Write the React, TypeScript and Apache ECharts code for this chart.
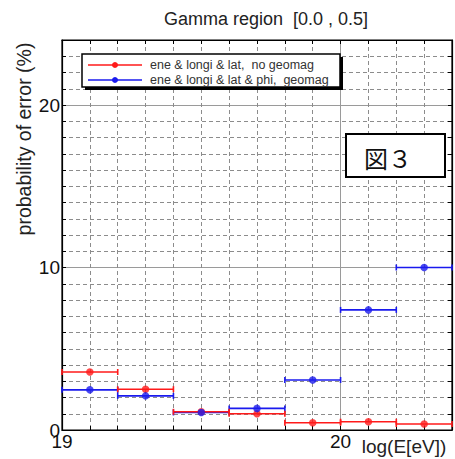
import React, { useEffect, useRef } from 'react';
import * as echarts from 'echarts';

// Energy bins (log10 E[eV])
const binLow = [19.0, 19.2, 19.4, 19.6, 19.8, 20.0, 20.2];
const binHigh = [19.2, 19.4, 19.6, 19.8, 20.0, 20.2, 20.4];
// probability of error (%)
const noGeomag = [3.57, 2.51, 1.12, 1.0, 0.45, 0.51, 0.37];
const withGeomag = [2.47, 2.1, 1.08, 1.33, 3.08, 7.39, 10.0];
const seriesNames = ['ene & longi & lat,  no geomag', 'ene & longi & lat & phi,  geomag'];
const seriesColors = ['#ff1a1a', '#1a1aee'];
const xTickLabels = ['19', '20'];
const yTickLabels = ['0', '10', '20'];
const titleText = 'Gamma region  [0.0 , 0.5]';
const yName = 'probability of error (%)';
const xName = 'log(E[eV])';
const figLabel = '図３';

const FONT = '"Liberation Sans", Arial, Helvetica, sans-serif';

function makeBars(values: number[]) {
  return values.map((v, i) => [binLow[i], binHigh[i], v]);
}
function makePoints(values: number[]) {
  return values.map((v, i) => [(binLow[i] + binHigh[i]) / 2, v]);
}

function barSeries(name: string, values: number[], color: string, z: number) {
  return {
    name,
    type: 'custom',
    xAxisIndex: 0,
    yAxisIndex: 0,
    z,
    encode: { x: [0, 1], y: 2 },
    data: makeBars(values),
    renderItem: (_params: any, api: any) => {
      const lo = api.coord([api.value(0), api.value(2)]);
      const hi = api.coord([api.value(1), api.value(2)]);
      const style = { stroke: color, lineWidth: 1.6, fill: 'none' };
      return {
        type: 'group',
        children: [
          { type: 'line', shape: { x1: lo[0], y1: lo[1], x2: hi[0], y2: hi[1] }, style },
          { type: 'line', shape: { x1: lo[0], y1: lo[1] - 3, x2: lo[0], y2: lo[1] + 3 }, style },
          { type: 'line', shape: { x1: hi[0], y1: hi[1] - 3, x2: hi[0], y2: hi[1] + 3 }, style },
        ],
      };
    },
  };
}

function pointSeries(name: string, values: number[], color: string, z: number) {
  return {
    name,
    type: 'scatter',
    xAxisIndex: 0,
    yAxisIndex: 0,
    z,
    symbol: 'circle',
    symbolSize: 7.5,
    itemStyle: { color },
    data: makePoints(values),
  };
}

const dashed = { color: '#8c8c8c', width: 1, type: [4, 3] as any };
const solidGrid = { color: '#9a9a9a', width: 1, type: 'solid' as any };

export default function App() {
  const ref = useRef<HTMLDivElement>(null);
  useEffect(() => {
    if (!ref.current) return;
    const chart = echarts.init(ref.current, undefined, { renderer: 'svg' });
    const labelFmt = (list: string[]) => (v: number) => {
      const s = String(Math.round(v * 1000) / 1000);
      return list.includes(s) ? s : '';
    };
    const option: any = {
      animation: false,
      backgroundColor: '#ffffff',
      grid: { left: 62, top: 40, right: 3, bottom: 29, show: true, borderColor: '#000', borderWidth: 1.2, backgroundColor: 'transparent' },
      xAxis: [
        {
          type: 'value', min: 19, max: 20.4, interval: 0.1, position: 'bottom',
          axisLine: { show: true, onZero: false, lineStyle: { color: '#000', width: 1.2 } },
          axisTick: { show: true, inside: true, length: 4, lineStyle: { color: '#000' } },
          axisLabel: { show: false },
          splitLine: { show: true, lineStyle: dashed },
        },
        {
          type: 'value', min: 19, max: 20.4, interval: 1, position: 'bottom',
          axisLine: { show: false, onZero: false },
          axisTick: { show: false },
          axisLabel: { show: true, formatter: labelFmt(xTickLabels), color: '#111', fontSize: 19, fontFamily: FONT, margin: 4, lineHeight: 15 },
          splitLine: { show: true, lineStyle: solidGrid },
        },
        {
          type: 'value', min: 19, max: 20.4, interval: 0.1, position: 'top',
          axisLine: { show: true, onZero: false, lineStyle: { color: '#000', width: 1.2 } },
          axisTick: { show: true, inside: true, length: 4, lineStyle: { color: '#000' } },
          axisLabel: { show: false },
          splitLine: { show: false },
        },
      ],
      yAxis: [
        {
          type: 'value', min: 0, max: 24, interval: 1, position: 'left',
          axisLine: { show: true, onZero: false, lineStyle: { color: '#000', width: 1.2 } },
          axisTick: { show: true, inside: true, length: 4, lineStyle: { color: '#000' } },
          axisLabel: { show: false },
          splitLine: { show: true, lineStyle: dashed },
        },
        {
          type: 'value', min: 0, max: 24, interval: 10, position: 'left',
          axisLine: { show: false, onZero: false },
          axisTick: { show: false },
          axisLabel: { show: true, formatter: labelFmt(yTickLabels), color: '#111', fontSize: 19, fontFamily: FONT, margin: 2, lineHeight: 15 },
          splitLine: { show: true, lineStyle: solidGrid },
        },
        {
          type: 'value', min: 0, max: 24, interval: 1, position: 'right',
          axisLine: { show: true, onZero: false, lineStyle: { color: '#000', width: 1.2 } },
          axisTick: { show: true, inside: true, length: 4, lineStyle: { color: '#000' } },
          axisLabel: { show: false },
          splitLine: { show: false },
        },
      ],
      series: [
        barSeries(seriesNames[1], withGeomag, seriesColors[1], 3),
        barSeries(seriesNames[0], noGeomag, seriesColors[0], 4),
        pointSeries(seriesNames[0], noGeomag, seriesColors[0], 5),
        pointSeries(seriesNames[1], withGeomag, seriesColors[1], 6),
      ],
      graphic: [
        { type: 'text', z: 100, x: 266, y: 19, style: { text: titleText, fontSize: 18, fontFamily: FONT, fill: '#222', align: 'center', verticalAlign: 'middle' } },
        { type: 'text', z: 100, x: 24, y: 139, rotation: Math.PI / 2, style: { text: yName, fontSize: 19.5, fontFamily: FONT, fill: '#222', align: 'center', verticalAlign: 'middle' } },
        { type: 'text', z: 100, x: 404, y: 446, style: { text: xName, fontSize: 19, fontFamily: FONT, fill: '#222', align: 'center', verticalAlign: 'middle' } },
        // legend
        { type: 'rect', z: 100, shape: { x: 85, y: 57, width: 258, height: 33 }, style: { fill: '#000' } },
        { type: 'rect', z: 101, shape: { x: 82, y: 54, width: 258, height: 33 }, style: { fill: '#fff', stroke: '#000', lineWidth: 1.5 } },
        { type: 'line', z: 102, shape: { x1: 88, y1: 65, x2: 142, y2: 65 }, style: { stroke: seriesColors[0], lineWidth: 1.5 } },
        { type: 'circle', z: 103, shape: { cx: 115, cy: 65, r: 3 }, style: { fill: seriesColors[0] } },
        { type: 'line', z: 102, shape: { x1: 88, y1: 80, x2: 142, y2: 80 }, style: { stroke: seriesColors[1], lineWidth: 1.5 } },
        { type: 'circle', z: 103, shape: { cx: 115, cy: 80, r: 3 }, style: { fill: seriesColors[1] } },
        { type: 'text', z: 103, x: 150, y: 65, style: { text: seriesNames[0], fontSize: 12.5, fontFamily: FONT, fill: '#333', align: 'left', verticalAlign: 'middle' } },
        { type: 'text', z: 103, x: 150, y: 80, style: { text: seriesNames[1], fontSize: 12.5, fontFamily: FONT, fill: '#333', align: 'left', verticalAlign: 'middle' } },
        // figure label
        { type: 'rect', z: 100, shape: { x: 346, y: 134, width: 99, height: 43 }, style: { fill: '#fff', stroke: '#000', lineWidth: 2 } },
        { type: 'text', z: 101, x: 364, y: 157, style: { text: figLabel, fontSize: 24, fontWeight: 'normal', fontFamily: '"Noto Sans CJK JP", "Liberation Serif", serif', fill: '#111', align: 'left', verticalAlign: 'middle' } },
      ],
    };
    chart.setOption(option);
    return () => chart.dispose();
  }, []);
  return (
    <div
      ref={ref}
      style={{ position: 'fixed', left: 0, top: 0, width: 455, height: 459, background: '#fff' }}
    />
  );
}
